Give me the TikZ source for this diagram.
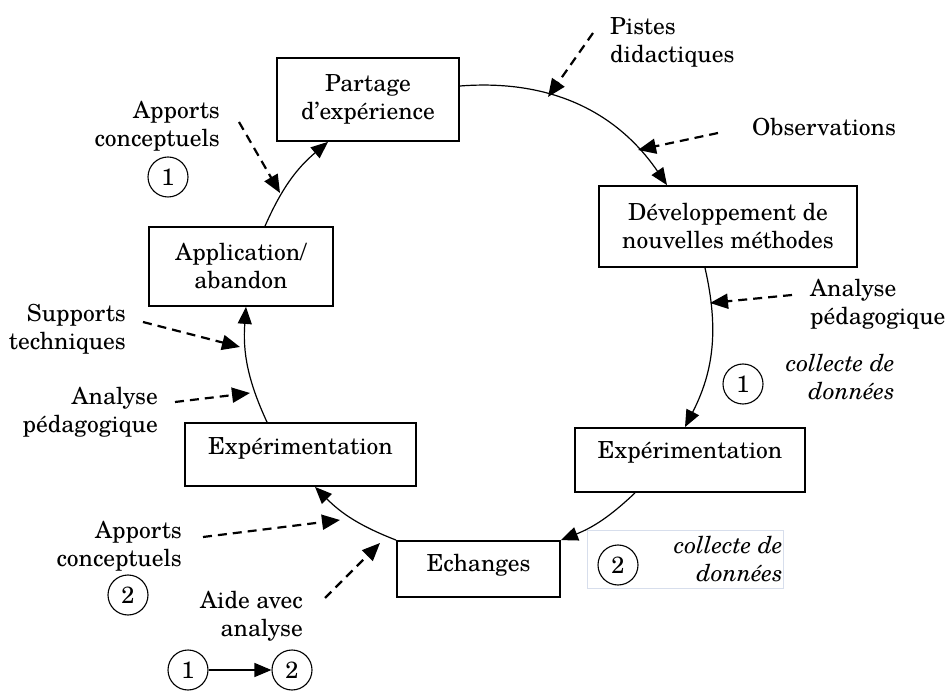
\documentclass[tikz,border=0pt]{standalone}
\usepackage{fontspec}
\setmainfont{TeX Gyre Schola}
\usetikzlibrary{arrows.meta}
\begin{document}
\begin{tikzpicture}[x=1pt,y=1pt,
  font=\fontsize{23.5}{28}\selectfont,
  box/.style={draw, line width=1.8pt, rectangle, align=center, inner sep=0pt},
  lbl/.style={inner sep=0pt},
  itl/.style={inner sep=0pt, font=\fontsize{23.5}{28}\selectfont\itshape},
  flow/.style={line width=1.2pt, -{Triangle[length=17pt,width=14pt]}},
  feed/.style={line width=2.2pt, dash pattern=on 9pt off 6pt, -{Triangle[length=18pt,width=15pt]}},
  num/.style={circle, draw, line width=1.1pt, minimum size=40pt, inner sep=0pt},
  faint/.style={draw={rgb,255:red,215;green,222;blue,236}, line width=0.8pt}]
\useasboundingbox (0,0) rectangle (947,691);

% main boxes
\node[box, minimum width=182pt, minimum height=83pt] (partage) at (368,591.5) {Partage\\d'expérience};
\node[box, minimum width=258pt, minimum height=81pt] (dev) at (728,464.5) {Développement de\\nouvelles méthodes};
\node[box, minimum width=184pt, minimum height=79pt] (appl) at (241,424.5) {Application/\\abandon};
\node[box, minimum width=231pt, minimum height=63pt, text depth=17pt] (expL) at (300.5,236.5) {Expérimentation};
\node[box, minimum width=230pt, minimum height=64pt, text depth=19pt] (expR) at (690,231) {Expérimentation};
\node[box, minimum width=163pt, minimum height=56pt, text depth=13pt] (ech) at (478.5,122) {Echanges};

% cycle
\draw[flow] ([yshift=13.5pt]partage.east) to[bend left=30] ([xshift=-61pt]dev.north);
\draw[flow] ([xshift=-23pt]dev.south) to[bend left=20] ([xshift=-5pt]expR.north);
\draw[flow] ([xshift=-55pt]expR.south) to[bend left=11] (ech.north east);
\draw[flow] (ech.north west) to[bend left=12] ([xshift=14.5pt]expL.south);
\draw[flow] ([xshift=-33.5pt]expL.north) to[bend left=14.5] ([xshift=5pt]appl.south);
\draw[flow] ([xshift=24pt]appl.north) to[bend left=13] ([xshift=-40pt]partage.south);

% labels
\node[lbl, anchor=west, align=left] (pistes) at (610,648.5) {Pistes\\didactiques};
\node[lbl, anchor=west] (obs) at (752,564) {Observations};
\node[lbl, anchor=west, align=left] (anaR) at (810,387) {Analyse\\pédagogique};
\node[num] (c1r) at (743,307) {1};
\node[itl, anchor=east, align=right] (col1) at (895,313.5) {collecte de\\données};
\node[lbl, anchor=east, align=right] (app1) at (220,565) {Apports\\conceptuels};
\node[num] (c1l) at (168,514) {1};
\node[lbl, anchor=east, align=right] (sup) at (126,362) {Supports\\techniques};
\node[lbl, anchor=east, align=right] (anaL) at (158,278.5) {Analyse\\pédagogique};
\node[lbl, anchor=east, align=right] (app2) at (182,144.5) {Apports\\conceptuels};
\node[num] (c2l) at (128,96) {2};
\node[lbl, anchor=east, align=right] (aide) at (303,75) {Aide avec\\analyse};
\node[num] (b1) at (188,21) {1};
\node[num] (b2) at (292,21) {2};
\draw[flow] (b1) -- (b2);
\node[faint, minimum width=196pt, minimum height=58pt, inner sep=0pt] (colbox) at (685,132) {};
\node[num] (c2r) at (618,126) {2};
\node[itl, anchor=east, align=right] (col2) at (783,131.5) {collecte de\\données};

% feedback arrows
\coordinate (pa0) at (593,658); \coordinate (pa1) at (548,594);
\coordinate (ob0) at (718,558); \coordinate (ob1) at (638,541);
\coordinate (ar0) at (792,396); \coordinate (ar1) at (710,388);
\coordinate (a10) at (239,569); \coordinate (a11) at (280,498);
\coordinate (su0) at (143,369); \coordinate (su1) at (240,344);
\coordinate (al0) at (175,289); \coordinate (al1) at (250,298);
\coordinate (a20) at (203,154); \coordinate (a21) at (340,171);
\coordinate (ai0) at (325,93);  \coordinate (ai1) at (380,148);
\draw[feed] (pa0) -- (pa1);
\draw[feed] (ob0) -- (ob1);
\draw[feed] (ar0) -- (ar1);
\draw[feed] (a10) -- (a11);
\draw[feed] (su0) -- (su1);
\draw[feed] (al0) -- (al1);
\draw[feed] (a20) -- (a21);
\draw[feed] (ai0) -- (ai1);
\end{tikzpicture}
\end{document}
